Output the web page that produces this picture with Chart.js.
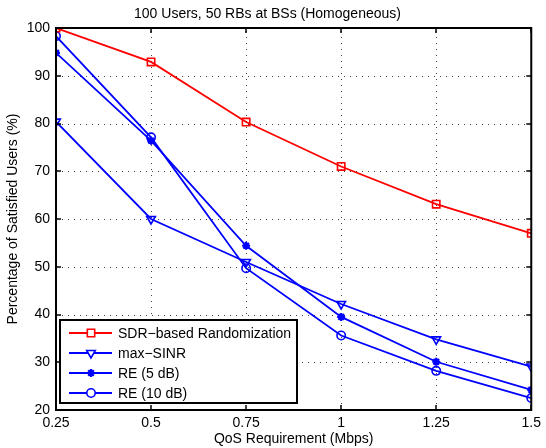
<!DOCTYPE html>
<html>
<head>
<meta charset="utf-8">
<script src="https://cdn.jsdelivr.net/npm/chart.js@4"></script>
<style>
  html, body { margin: 0; padding: 0; background: #fff; }
  #wrap { width: 546px; height: 448px; }
</style>
</head>
<body>
<div id="wrap"><canvas id="chart" width="546" height="448"></canvas></div>
<script>
// QoS requirement (Mbps)
const qos = [0.25, 0.5, 0.75, 1, 1.25, 1.5];
const xTicks = [0.25, 0.5, 0.75, 1, 1.25, 1.5];
const yTicks = [20, 30, 40, 50, 60, 70, 80, 90, 100];

// percentage of satisfied users
const sdrRandom = [100, 92.9, 80.3, 71, 63.1, 57];
const maxSinr = [80.4, 60, 51, 42.2, 34.8, 29.1];
const re5 = [94.8, 76.4, 54.4, 39.5, 30.1, 24.2];
const re10 = [98.3, 77.1, 49.7, 35.6, 28.2, 22.5];

const FONT = 'Liberation Sans, Arial, Helvetica, sans-serif';

function pts(ys) {
    return ys.map((y, i) => ({ x: qos[i], y: y }));
}

function series(label, ys, color, style, radius, rot) {
    return {
        label: label,
        data: pts(ys),
        borderColor: color,
        backgroundColor: 'rgba(0,0,0,0)',
        borderWidth: 1.8,
        pointStyle: style,
        rotation: rot || 0,
        pointRadius: radius,
        pointBorderWidth: style === 'star' ? 2.2 : 1.6,
        pointBorderColor: color,
        pointBackgroundColor: 'rgba(0,0,0,0)',
        tension: 0
    };
}

// dotted grid behind the lines
const dottedGrid = {
    id: 'dottedGrid',
    beforeDatasetsDraw(chart) {
        const ctx = chart.ctx;
        const a = chart.chartArea;
        const xs = chart.scales.x, ys = chart.scales.y;
        ctx.save();
        ctx.strokeStyle = '#444';
        ctx.lineWidth = 1;
        ctx.setLineDash([1, 5]);
        ctx.beginPath();
        xTicks.forEach(v => {
            const px = Math.round(xs.getPixelForValue(v)) + 0.5;
            ctx.moveTo(px, a.bottom); ctx.lineTo(px, a.top);
        });
        yTicks.forEach(v => {
            const py = Math.round(ys.getPixelForValue(v)) + 0.5;
            ctx.moveTo(a.left, py); ctx.lineTo(a.right, py);
        });
        ctx.stroke();
        ctx.restore();
    }
};

// MATLAB style box, inward ticks and legend with line + marker
const matlabBox = {
    id: 'matlabBox',
    afterDraw(chart) {
        const ctx = chart.ctx;
        const a = chart.chartArea;
        const xs = chart.scales.x, ys = chart.scales.y;
        ctx.save();
        ctx.strokeStyle = '#000';
        ctx.lineWidth = 1.5;
        ctx.beginPath();
        xTicks.forEach(v => {
            const px = Math.round(xs.getPixelForValue(v));
            ctx.moveTo(px, a.bottom); ctx.lineTo(px, a.bottom - 5);
            ctx.moveTo(px, a.top); ctx.lineTo(px, a.top + 5);
        });
        yTicks.forEach(v => {
            const py = Math.round(ys.getPixelForValue(v));
            ctx.moveTo(a.left, py); ctx.lineTo(a.left + 5, py);
            ctx.moveTo(a.right, py); ctx.lineTo(a.right - 5, py);
        });
        ctx.stroke();
        ctx.lineWidth = 2;
        ctx.strokeRect(a.left, a.top, a.right - a.left, a.bottom - a.top);

        // legend
        const bx = a.left + 4, by = a.bottom - 90, bw = 237, bh = 83;
        ctx.fillStyle = '#fff';
        ctx.fillRect(bx, by, bw, bh);
        ctx.lineWidth = 2;
        ctx.strokeRect(bx, by, bw, bh);
        ctx.font = '14px ' + FONT;
        ctx.textBaseline = 'middle';
        chart.data.datasets.forEach((ds, i) => {
            const cy = by + 13 + i * 20;
            ctx.strokeStyle = ds.borderColor;
            ctx.lineWidth = ds.borderWidth;
            ctx.beginPath();
            ctx.moveTo(bx + 9, cy); ctx.lineTo(bx + 52, cy);
            ctx.stroke();
            ctx.fillStyle = '#fff';
            ctx.lineWidth = ds.pointBorderWidth;
            Chart.helpers.drawPoint(ctx, {
                pointStyle: ds.pointStyle,
                rotation: ds.rotation,
                radius: ds.pointRadius,
                borderWidth: ds.pointBorderWidth
            }, bx + 31, cy);
            ctx.fillStyle = '#000';
            ctx.fillText(ds.label, bx + 58, cy + 1);
        });
        ctx.restore();
    }
};

new Chart(document.getElementById('chart'), {
    type: 'line',
    data: {
        datasets: [
            series('SDR\u2212based Randomization', sdrRandom, '#ff0000', 'rect', 5.2),
            series('max\u2212SINR', maxSinr, '#0000ff', 'triangle', 5, 180),
            series('RE (5 dB)', re5, '#0000ff', 'star', 4),
            series('RE (10 dB)', re10, '#0000ff', 'circle', 4.2)
        ]
    },
    options: {
        responsive: false,
        animation: false,
        layout: { padding: { left: 0, right: 11, top: 0, bottom: 0 } },
        plugins: {
            legend: { display: false },
            tooltip: { enabled: false },
            title: {
                display: true,
                text: '100 Users, 50 RBs at BSs (Homogeneous)',
                color: '#000',
                font: { family: FONT, size: 14, weight: 'normal' },
                padding: { top: 6, bottom: 5.2 }
            }
        },
        scales: {
            x: {
                type: 'linear',
                min: 0.25,
                max: 1.5,
                afterBuildTicks: s => { s.ticks = xTicks.map(v => ({ value: v })); },
                afterFit: s => { s.height = 38; },
                ticks: {
                    color: '#000',
                    font: { family: FONT, size: 14 },
                    padding: 5,
                    maxRotation: 0,
                    callback: v => String(v)
                },
                grid: { display: false, drawTicks: false, tickLength: 0 },
                border: { display: false },
                title: {
                    display: true,
                    text: 'QoS Requirement (Mbps)',
                    color: '#000',
                    font: { family: FONT, size: 14 },
                    padding: { top: 0, bottom: 0 }
                }
            },
            y: {
                min: 20,
                max: 100,
                afterBuildTicks: s => { s.ticks = yTicks.map(v => ({ value: v })); },
                afterFit: s => { s.width = 56; },
                ticks: {
                    color: '#000',
                    font: { family: FONT, size: 14 },
                    padding: 6
                },
                grid: { display: false, drawTicks: false, tickLength: 0 },
                border: { display: false },
                title: {
                    display: true,
                    text: 'Percentage of Satisfied Users (%)',
                    color: '#000',
                    font: { family: FONT, size: 14 },
                    padding: { top: 5, bottom: 0 }
                }
            }
        }
    },
    plugins: [dottedGrid, matlabBox]
});
</script>
</body>
</html>
